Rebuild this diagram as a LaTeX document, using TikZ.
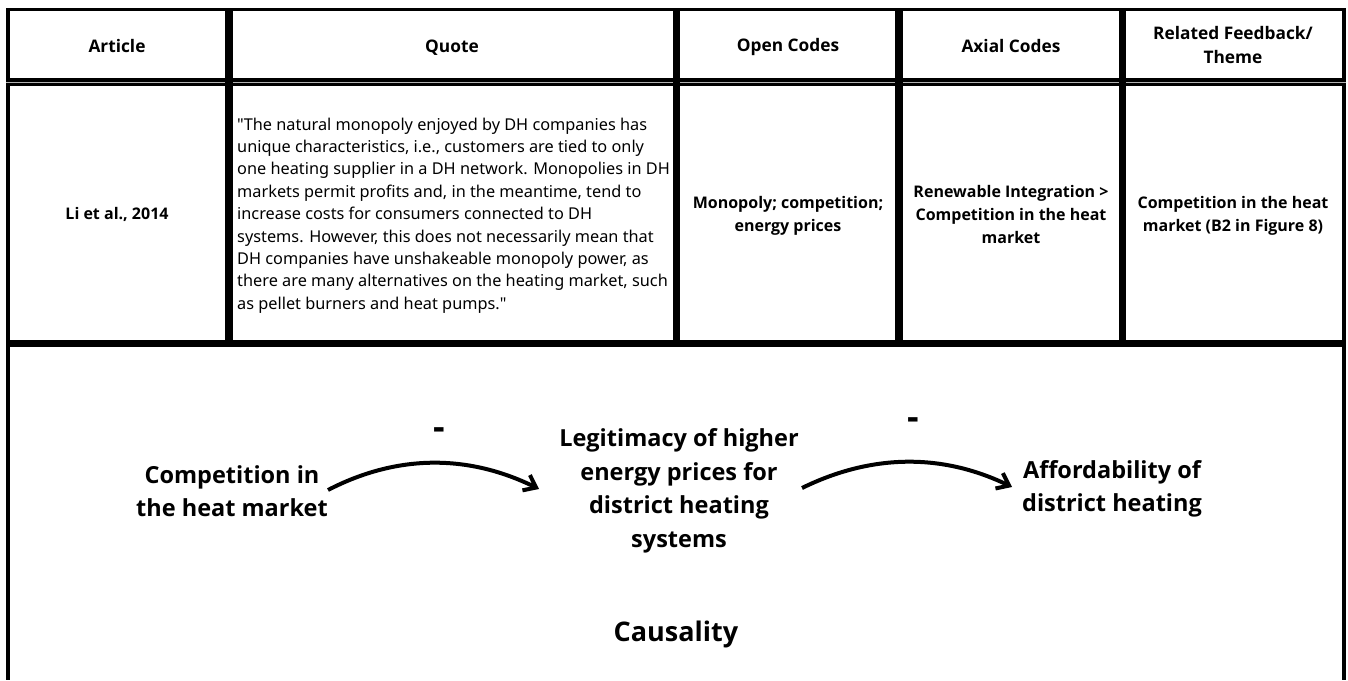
\documentclass[tikz,border=0pt]{standalone}
\usepackage{fontspec}
\setmainfont{Noto Sans}
\newfontfamily\boldsans{Open Sans}
\usetikzlibrary{arrows.meta}
\begin{document}
\begin{tikzpicture}[x=1pt,y=-1pt,
  hdr/.style={font=\boldsans\bfseries\fontsize{17.3}{24}\selectfont, align=center, inner sep=0},
  cellb/.style={font=\boldsans\bfseries\fontsize{16}{23}\selectfont, align=center, inner sep=0},
  quotetxt/.style={font=\fontsize{16.3}{22.4}\selectfont, align=left, inner sep=0, anchor=west},
  big/.style={font=\boldsans\bfseries\fontsize{23.5}{33.5}\selectfont, align=center, inner sep=0},
  bigger/.style={font=\boldsans\bfseries\fontsize{27}{30}\selectfont, inner sep=0},
  sign/.style={font=\boldsans\bfseries\fontsize{36}{36}\selectfont, inner sep=0, anchor=base},
  frame/.style={line width=#1},
  causal/.style={line width=4pt, -{Straight Barb[length=11pt,width=17pt,line width=4pt]}}
]
\useasboundingbox (0,0) rectangle (1348,680);
% table frame
\draw[frame=4pt] (8,8) -- (8,680);
\draw[frame=4pt] (1343.5,8) -- (1343.5,680);
\draw[frame=3.5pt] (6,9.5) -- (1345.5,9.5);
\draw[frame=8pt] (6,82) -- (1345.5,82);
\draw[gray!60, line width=0.8pt] (6,82) -- (1345.5,82);
\draw[frame=7pt] (6,343.5) -- (1345.5,343.5);
\foreach \cx in {229,676.5,899,1122.5}
  \draw[frame=7.5pt] (\cx,9.5) -- (\cx,343.5);
% header
\node[hdr] (hArt) at (117,46) {Article};
\node[hdr] (hQuo) at (452,47.5) {Quote};
\node[hdr] (hOpen) at (788,47.5) {Open Codes};
\node[hdr] (hAx) at (1011,46) {Axial Codes};
\node[hdr] (hRel) at (1233,45) {Related Feedback/\\Theme};
% body row
\node[cellb] (bArt) at (117,214) {Li et al., 2014};
\node[quotetxt] (bQuo) at (237,215.5) {\textquotedbl The natural monopoly enjoyed by DH companies has\\
unique characteristics, i.e., customers are tied to only\\
one heating supplier in a DH network. Monopolies in DH\\
markets permit profits and, in the meantime, tend to\\
increase costs for consumers connected to DH\\
systems. However, this does not necessarily mean that\\
DH companies have unshakeable monopoly power, as\\
there are many alternatives on the heating market, such\\
as pellet burners and heat pumps.\textquotedbl};
\node[cellb] (bOpen) at (788,216) {Monopoly; competition;\\energy prices};
\node[cellb] (bAx) at (1011,214.5) {Renewable Integration >\\Competition in the heat\\market};
\node[cellb] (bRel) at (1233,215.5) {Competition in the heat\\market (B2 in Figure 8)};
% causal diagram
\node[big] (comp) at (232,491) {Competition in\\the heat market};
\node[big] (legit) at (679,491) {Legitimacy of higher\\energy prices for\\district heating\\systems};
\node[big] (afford) at (1112,489) {Affordability of\\district heating};
\node[bigger] (causality) at (676,634) {Causality};
\node[sign] (m1) at (439,439) {-};
\node[sign] (m2) at (913,429) {-};
\coordinate (a1s) at (328,490);
\coordinate (a1e) at (539,489);
\coordinate (a2s) at (802,488);
\coordinate (a2e) at (1012,487);
\draw[causal] (a1s) .. controls (397,454.3) and (467.7,454) .. (a1e);
\draw[causal] (a2s) .. controls (872,453.7) and (942,453.3) .. (a2e);
\end{tikzpicture}
\end{document}
